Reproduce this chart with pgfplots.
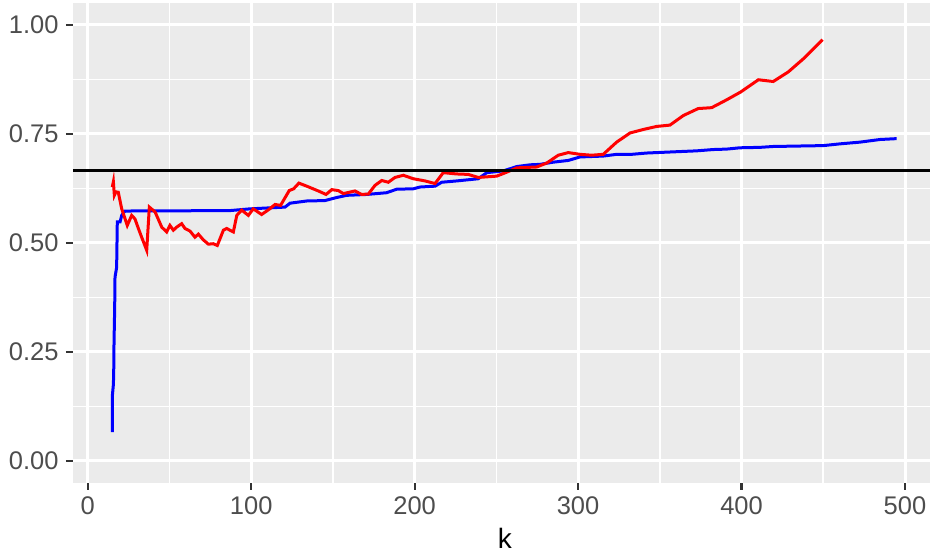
\documentclass[border=0pt]{standalone}
\usepackage{pgfplots}
\pgfplotsset{compat=1.18}
\usepackage{fontspec}
\setmainfont{Liberation Sans}
\definecolor{panel}{HTML}{EBEBEB}
\definecolor{gtxt}{HTML}{4D4D4D}
\definecolor{gtick}{HTML}{333333}
\begin{document}
\begin{tikzpicture}
\useasboundingbox (0,0) rectangle (465pt,277pt);
\begin{axis}[
  at={(36.5pt,35.65pt)}, anchor=south west,
  scale only axis, width=428.5pt, height=239.85pt,
  xmin=-9, xmax=515.3, ymin=-0.05, ymax=1.05,
  axis background/.style={fill=panel},
  axis line style={draw=none},
  grid=both,
  major grid style={white, line width=1.5pt},
  minor grid style={white, line width=0.8pt},
  xtick={0,100,200,300,400,500},
  minor xtick={50,150,250,350,450},
  ytick={0,0.25,0.5,0.75,1},
  minor ytick={0.125,0.375,0.625,0.875},
  yticklabels={0.00,0.25,0.50,0.75,1.00},
  xtick pos=bottom, ytick pos=left,
  tick align=outside, major tick length=3.5pt, minor tick length=0pt,
  tick style={gtick, line width=1.1pt},
  /pgf/number format/assume math mode=true,
  ticklabel style={font=\fontsize{12.75}{14}\selectfont, text=gtxt},
  yticklabel style={anchor=east, inner sep=0pt, xshift=-3.5pt},
  xticklabel style={anchor=north, inner sep=0pt, yshift=-3.5pt},
  xlabel={k},
  xlabel style={font=\fontsize{14}{16}\selectfont, at={(axis description cs:0.504,0)}, anchor=base, yshift=-32.8pt, inner sep=0pt},
]
\addplot[blue, line width=1.5pt] coordinates {
(15.05,0.066)(15.1,0.15)(15.7,0.175)(15.9,0.20)(16.1,0.272)(16.5,0.35)(16.7,0.421)(17.7,0.444)(18.1,0.548)(19.8,0.548)(20.8,0.563)(22.8,0.573)(87,0.574)(99.3,0.578)(120.7,0.582)(123.8,0.591)(134,0.596)(145.2,0.597)(152.3,0.604)(158.5,0.609)(170.7,0.611)(182.9,0.615)(189,0.623)(199.2,0.624)(203.3,0.628)(212.5,0.630)(216.6,0.639)(225.7,0.642)(238.9,0.647)(244.2,0.661)(254.3,0.665)(262.5,0.675)(270.7,0.679)(276.7,0.680)(284.8,0.685)(294,0.689)(301.2,0.697)(315.4,0.699)(323.6,0.703)(332.8,0.703)(342,0.706)(354.2,0.708)(372.6,0.711)(382.7,0.714)(390.9,0.715)(399,0.718)(411.3,0.719)(419.4,0.721)(450,0.723)(460.2,0.727)(472.5,0.731)(484.7,0.737)(494.9,0.739)
};
\addplot[red, line width=1.5pt] coordinates {
(15.05,0.628)(15.7,0.64)(16.3,0.609)(17.3,0.617)(18.7,0.616)(20.8,0.578)(24.2,0.540)(26.9,0.563)(28.9,0.555)(31,0.533)(33,0.513)(36.1,0.483)(37.7,0.582)(41.2,0.571)(45.3,0.536)(48.3,0.525)(50.3,0.540)(52.4,0.529)(54.4,0.536)(57.5,0.544)(59.5,0.533)(62.6,0.527)(65.6,0.513)(67.7,0.520)(70.7,0.507)(73.8,0.497)(76.8,0.498)(79.3,0.494)(83,0.529)(85,0.533)(89.1,0.525)(91.2,0.563)(94.2,0.575)(98.3,0.563)(101.3,0.578)(106.4,0.565)(111,0.577)(114.6,0.588)(118,0.586)(123.3,0.620)(126,0.624)(129.2,0.637)(134,0.630)(141.1,0.619)(145.8,0.611)(149.3,0.622)(153.3,0.620)(156.4,0.613)(163.5,0.619)(167.6,0.611)(171.7,0.612)(175.8,0.632)(179.9,0.643)(183.9,0.639)(188,0.650)(193.1,0.655)(199.2,0.647)(206.4,0.642)(212.5,0.636)(217.5,0.661)(225.7,0.658)(232.8,0.657)(238.9,0.650)(250.2,0.653)(256.3,0.662)(262.5,0.672)(274.7,0.674)(280.8,0.683)(287.9,0.701)(294,0.707)(301.2,0.703)(308.3,0.701)(315.4,0.703)(323.6,0.731)(331.8,0.752)(339.9,0.760)(348.1,0.767)(356.2,0.770)(364.4,0.792)(373.5,0.808)(381.7,0.810)(390.9,0.828)(399.5,0.846)(410.3,0.874)(419.4,0.870)(428.6,0.892)(437.8,0.922)(449.6,0.966)
};
\addplot[black, line width=1.5pt] coordinates {(-9,0.6667)(515.3,0.6667)};
\end{axis}
\end{tikzpicture}
\end{document}
